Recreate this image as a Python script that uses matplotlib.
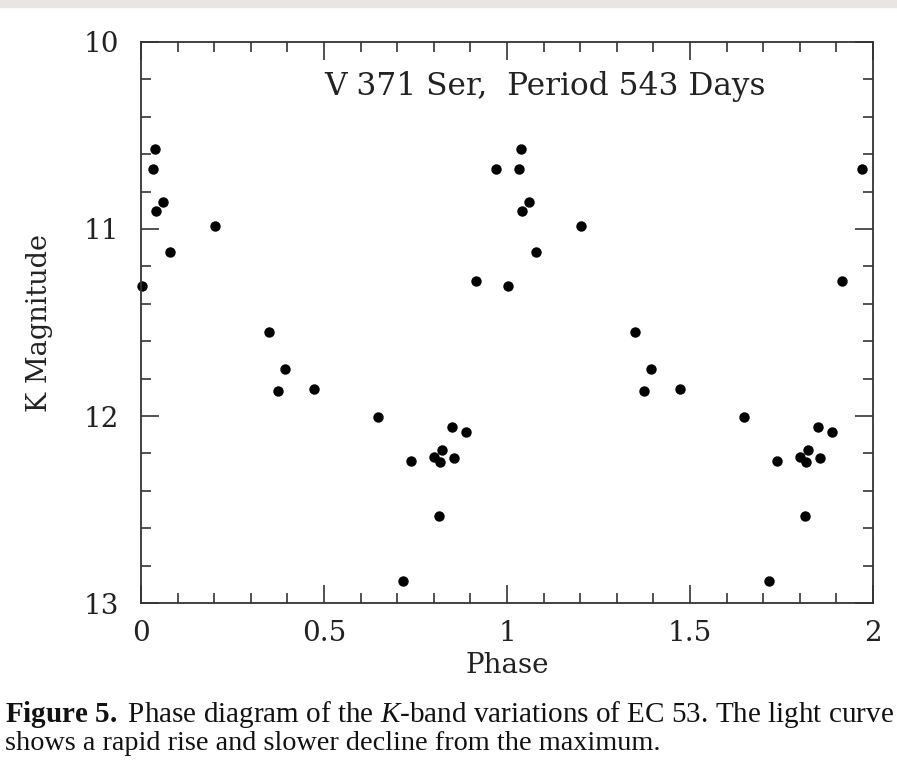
import matplotlib
matplotlib.use("Agg")
import matplotlib.pyplot as plt
from matplotlib.patches import Rectangle
from matplotlib.ticker import MultipleLocator

# phase-folded K-band measurements (one cycle, plotted twice)
phase = [0.002, 0.032, 0.037, 0.040, 0.060, 0.080, 0.202, 0.350, 0.375,
         0.393, 0.472, 0.647, 0.715, 0.737, 0.800, 0.814, 0.816, 0.823,
         0.849, 0.855, 0.887, 0.915, 0.969]
kmag = [11.305, 10.680, 10.570, 10.905, 10.857, 11.125, 10.985, 11.553, 11.866,
        11.749, 11.857, 12.004, 12.882, 12.239, 12.221, 12.535, 12.244, 12.182,
        12.060, 12.226, 12.086, 11.276, 10.679]

x_ticks = [0, 0.5, 1, 1.5, 2]
x_ticklabels = ["0", "0.5", "1", "1.5", "2"]
title_text = "V 371 Ser,  Period 543 Days"

plt.rcParams["mathtext.fontset"] = "custom"
plt.rcParams["mathtext.rm"] = "Liberation Serif"
plt.rcParams["mathtext.it"] = "Liberation Serif:italic"
plt.rcParams["mathtext.bf"] = "Liberation Serif:bold"

fig = plt.figure(figsize=(8.97, 7.76), dpi=100)
ax = fig.add_axes([0.1572, 0.2229, 0.816, 0.7230])

# top grey strip of the scanned page
fig.patches.append(Rectangle((0, 0.991), 1, 0.009, transform=fig.transFigure,
                             color="#e8e6e3", zorder=0))

# two cycles
x = phase + [p + 1 for p in phase]
y = kmag + kmag
ax.plot(x, y, "o", color="black", ms=7.5, mew=0, clip_on=False)

ax.set_xlim(0, 2)
ax.set_ylim(13, 10)

ax.xaxis.set_minor_locator(MultipleLocator(0.1))
ax.yaxis.set_major_locator(MultipleLocator(1))
ax.yaxis.set_minor_locator(MultipleLocator(0.2))
ax.set_xticks(x_ticks)
ax.set_xticklabels(x_ticklabels)

ax.tick_params(which="both", direction="in", top=True, right=True,
               color="#333333", width=1.2)
ax.tick_params(which="major", length=13, labelsize=20, labelcolor="#222222")
ax.tick_params(axis="x", which="major", pad=12)
ax.tick_params(axis="y", which="major", pad=16)
ax.tick_params(which="minor", length=7)

for lab in ax.get_xticklabels() + ax.get_yticklabels():
    lab.set_family("DejaVu Serif")

for s in ax.spines.values():
    s.set_linewidth(1.3)
    s.set_color("#333333")

ax.set_xlabel("Phase", family="DejaVu Serif", fontsize=20, color="#222222",
              labelpad=4)
ax.set_ylabel("K Magnitude", family="DejaVu Serif", fontsize=19.5,
              color="#222222", labelpad=22)

ax.text(0.251, 0.92, title_text, transform=ax.transAxes, family="DejaVu Serif",
        fontsize=22.5, color="#222222", ha="left", va="center")

# caption
fig.text(0.006, 0.0696,
         r"$\mathbf{Figure\ 5.}$ Phase diagram of the $\mathit{K}$-band variations "
         r"of EC 53. The light curve",
         family="Liberation Serif", fontsize=21, color="#111111", va="baseline")
fig.text(0.006, 0.0335,
         "shows a rapid rise and slower decline from the maximum.",
         family="Liberation Serif", fontsize=20.3, color="#111111", va="baseline")

fig.savefig("out.png", dpi=100)
